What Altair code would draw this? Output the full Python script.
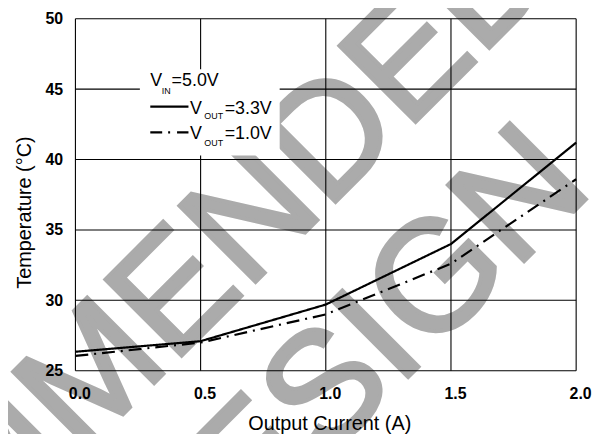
import altair as alt
import pandas as pd

# ---- data ----
current = [0.0, 0.5, 1.0, 1.5, 2.0]
temp_vout_33 = [26.35, 27.1, 29.7, 34.0, 41.2]
temp_vout_10 = [26.05, 27.0, 29.0, 32.6, 38.6]
series_names = ["VOUT=3.3V", "VOUT=1.0V"]
x_ticks = [0.0, 0.5, 1.0, 1.5, 2.0]
y_ticks = [25, 30, 35, 40, 45, 50]
watermark_lines = ["NOT RECOMMENDED", "FOR NEW DESIGN"]
x_title = "Output Current (A)"
y_title = "Temperature (°C)"

FONT = "Liberation Sans"

df = pd.DataFrame({
    "current": current + current,
    "temp": temp_vout_33 + temp_vout_10,
    "series": [series_names[0]] * len(current) + [series_names[1]] * len(current),
})
xgrid = pd.DataFrame({"current": x_ticks})
ygrid = pd.DataFrame({"temp": y_ticks})
one = pd.DataFrame({"k": [0]})

xscale = alt.Scale(domain=[0, 2], nice=False, zero=False)
yscale = alt.Scale(domain=[25, 50], nice=False, zero=False)

xaxis = alt.Axis(
    values=x_ticks, format=".1f", grid=False, ticks=False, domain=False,
    labelFont=FONT, labelFontSize=16, labelFontWeight="bold", labelColor="black",
    labelPadding=15, labelOffset=4, labelFlush=False, labelOverlap=False, labelBound=False,
    title=x_title, titleFont=FONT, titleFontSize=20, titleFontWeight="normal",
    titleColor="black", titleX=256, titleY=43, titleBaseline="top", titleAlign="center",
    zindex=1,
)
yaxis = alt.Axis(
    values=y_ticks, format="d", grid=False, ticks=False, domain=False,
    labelFont=FONT, labelFontSize=16, labelFontWeight="bold", labelColor="black",
    labelPadding=13, labelOverlap=False, labelBound=False, labelFlush=False,
    title=y_title, titleFont=FONT, titleFontSize=20, titleFontWeight="normal",
    titleColor="black", titleAngle=270, titleX=-51, titleY=195,
    titleAlign="center", titleBaseline="middle",
    zindex=1,
)

X = lambda f: alt.X(f + ":Q", scale=xscale, axis=xaxis)
Y = lambda f: alt.Y(f + ":Q", scale=yscale, axis=yaxis)

WM_GRAY = "#ababab"

# watermark (behind everything)
wm1 = alt.Chart(one).mark_text(
    text=watermark_lines[0], angle=315, align="right", baseline="alphabetic",
    font=FONT, fontSize=158, color=WM_GRAY, stroke=WM_GRAY, strokeWidth=4
).encode(x=alt.value(489), y=alt.value(-42))
wm2 = alt.Chart(one).mark_text(
    text=watermark_lines[1], angle=315, align="right", baseline="alphabetic",
    font=FONT, fontSize=158, color=WM_GRAY, stroke=WM_GRAY, strokeWidth=4
).encode(x=alt.value(524), y=alt.value(173))

# grid + frame
vgrid = alt.Chart(xgrid).mark_rule(color="black", strokeWidth=1.1).encode(x=X("current"))
hgrid = alt.Chart(ygrid).mark_rule(color="black", strokeWidth=1.1).encode(y=Y("temp"))

# legend box
box = alt.Chart(one).mark_rect(color="white").encode(
    x=alt.value(65), x2=alt.value(206), y=alt.value(51), y2=alt.value(138)
)

def txt(s, x, y, size):
    return alt.Chart(one).mark_text(
        text=s, align="left", baseline="alphabetic", font=FONT, fontSize=size, color="black"
    ).encode(x=alt.value(x), y=alt.value(y))

legend_layers = [
    txt("V", 75.5, 68, 18), txt("IN", 87, 76, 9), txt("=5.0V", 97, 68, 18),
    txt("V", 115.5, 96, 18), txt("OUT", 130, 101.5, 9), txt("=3.3V", 150.5, 96, 18),
    txt("V", 115.5, 121, 18), txt("OUT", 130, 128, 9), txt("=1.0V", 150.5, 121, 18),
]
leg_solid = alt.Chart(one).mark_rule(color="black", strokeWidth=2.2).encode(
    x=alt.value(75.5), x2=alt.value(114), y=alt.value(88.7)
)
leg_dash = alt.Chart(one).mark_rule(color="black", strokeWidth=2.2, strokeDash=[12, 6, 2, 7]).encode(
    x=alt.value(75.5), x2=alt.value(114), y=alt.value(114.7)
)

lines = alt.Chart(df).mark_line(color="black", strokeWidth=2.2).encode(
    x=X("current"),
    y=Y("temp"),
    detail="series:N",
    strokeDash=alt.StrokeDash(
        "series:N",
        scale=alt.Scale(domain=series_names, range=[[1, 0], [13, 6, 2, 6]]),
        legend=None,
    ),
)

chart = alt.layer(
    wm1, wm2, vgrid, hgrid, box, *legend_layers, leg_solid, leg_dash, lines
).properties(
    width=505, height=355,
    autosize=alt.AutoSizeParams(type="none"),
    padding={"left": 68, "top": 9, "right": 18, "bottom": 62},
    background="white",
).configure_view(stroke=None)

chart.save("out.html", embed_options={"renderer": "svg", "actions": False})
